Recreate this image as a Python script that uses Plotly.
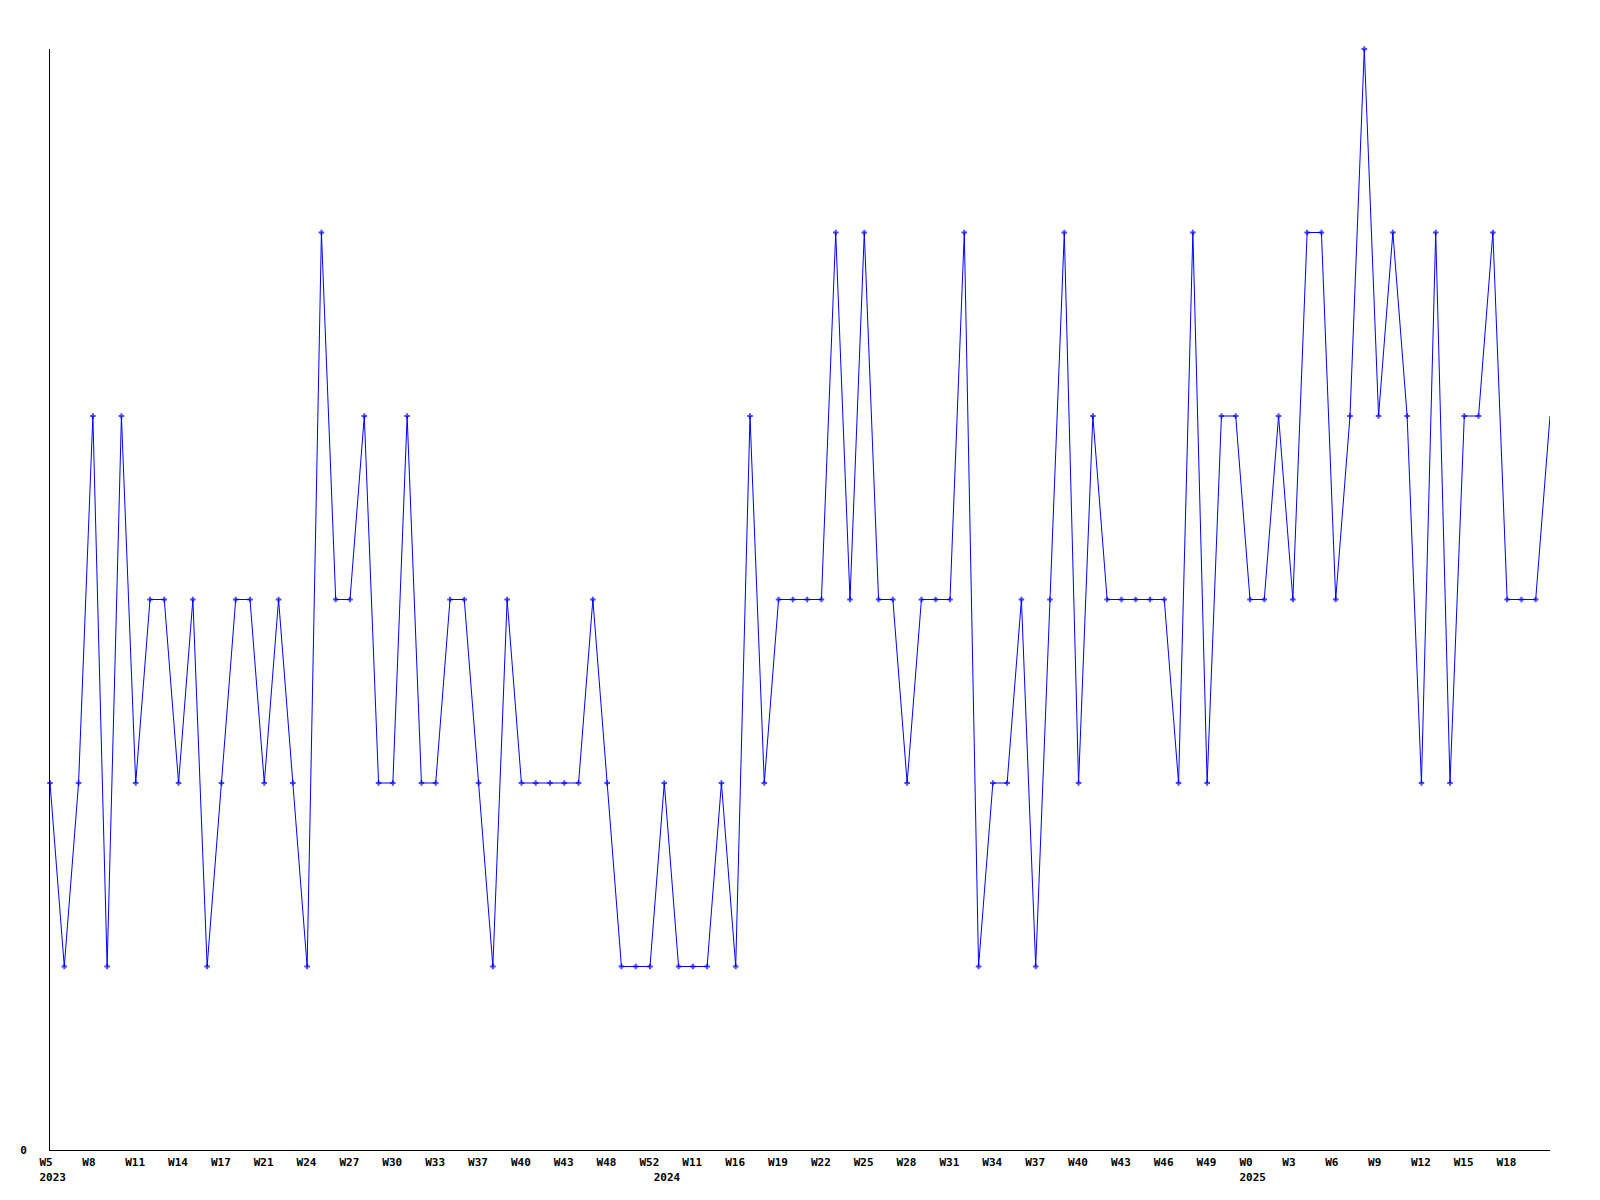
import plotly.graph_objects as go

# Weekly values (index 0 .. 105)
values = [
    2, 1, 2, 4, 1, 4, 2, 3, 3, 2,
    3, 1, 2, 3, 3, 2, 3, 2, 1, 5,
    3, 3, 4, 2, 2, 4, 2, 2, 3, 3,
    2, 1, 3, 2, 2, 2, 2, 2, 3, 2,
    1, 1, 1, 2, 1, 1, 1, 2, 1, 4,
    2, 3, 3, 3, 3, 5, 3, 5, 3, 3,
    2, 3, 3, 3, 5, 1, 2, 2, 3, 1,
    3, 5, 2, 4, 3, 3, 3, 3, 3, 2,
    5, 2, 4, 4, 3, 3, 4, 3, 5, 5,
    3, 4, 6, 4, 5, 4, 2, 5, 2, 4,
    4, 5, 3, 3, 3, 4,
]

# Week tick labels, one every 3 points
week_labels = [
    "W5", "W8", "W11", "W14", "W17", "W21", "W24", "W27", "W30", "W33",
    "W37", "W40", "W43", "W48", "W52", "W11", "W16", "W19", "W22", "W25",
    "W28", "W31", "W34", "W37", "W40", "W43", "W46", "W49", "W0", "W3",
    "W6", "W9", "W12", "W15", "W18",
]
week_step = 3

# Year labels and the point index where they appear
year_labels = ["2023", "2024", "2025"]
year_index = [0, 43, 84]

x = list(range(len(values)))
NB = "\u00a0"
LABEL_SHIFT = 0.19  # labels are left-aligned slightly before the point

tick_pos = {}
for k, lab in enumerate(week_labels):
    tick_pos[k * week_step] = [lab.ljust(4, NB), None]
for yl, yi in zip(year_labels, year_index):
    if yi in tick_pos:
        tick_pos[yi][1] = yl
    else:
        tick_pos[yi] = [NB * 4, yl]

tickvals, ticktext = [], []
for pos in sorted(tick_pos):
    top, bottom = tick_pos[pos]
    tickvals.append(pos + LABEL_SHIFT)
    ticktext.append(top if bottom is None else f"{top}<br>{bottom}")

marker_sizes = [4] * (len(values) - 1) + [0]

fig = go.Figure()
fig.add_trace(go.Scatter(
    x=x, y=values, mode="lines+markers",
    line=dict(color="#0000ff", width=1),
    marker=dict(symbol="cross-thin", size=marker_sizes, color="#0000ff",
                line=dict(color="#0000ff", width=2)),
    cliponaxis=False,
    showlegend=False,
))

tfont = dict(family="DejaVu Sans Mono", size=11, color="black", weight="bold")
fig.update_layout(
    width=1600, height=1200,
    margin=dict(l=50, r=50, t=49, b=50),
    paper_bgcolor="white", plot_bgcolor="white",
    xaxis=dict(range=[0, len(values) - 1], showgrid=False, zeroline=False,
               showline=True, linecolor="black", linewidth=1,
               tickvals=tickvals, ticktext=ticktext, tickangle=0,
               ticks="", ticklabelstandoff=2, tickfont=tfont),
    yaxis=dict(range=[0, 6], showgrid=False, zeroline=False,
               showline=True, linecolor="black", linewidth=1,
               tickvals=[0], ticktext=["0"], ticks="",
               ticklabelstandoff=20, tickfont=tfont),
)

fig.write_html("out.html", config={"displayModeBar": False},
               post_script="document.body.style.margin='0';")
